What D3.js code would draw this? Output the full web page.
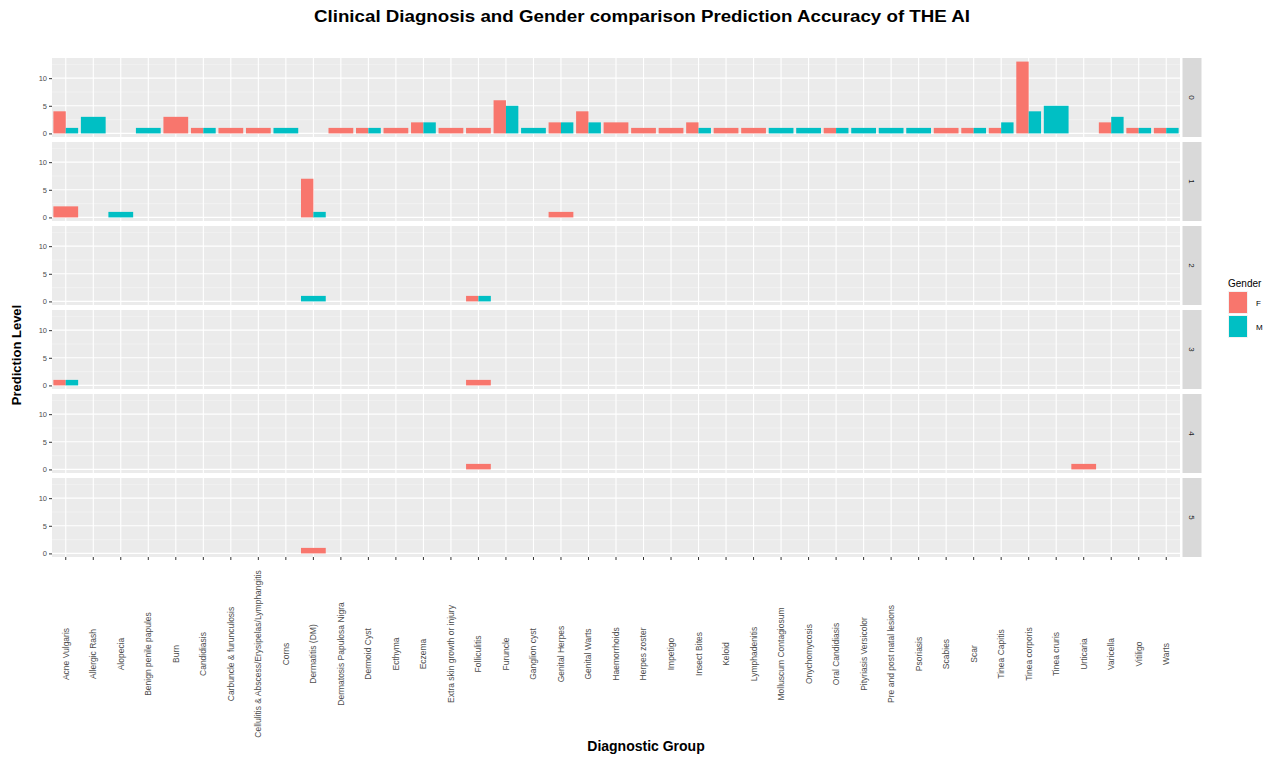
<!DOCTYPE html>
<html>
<head>
<meta charset="utf-8">
<script src="https://cdn.jsdelivr.net/npm/d3@7"></script>
<style>
  html, body { margin: 0; padding: 0; background: #ffffff; }
  svg { display: block; font-family: "Liberation Sans", Arial, sans-serif; }
</style>
</head>
<body>
<svg id="chart" width="1283" height="759"></svg>
<script>
// Diagnostic groups along the x axis
const categories = [
  "Acne Vulgaris", "Allergic Rash", "Alopecia", "Benign penile papules", "Burn",
  "Candidiasis", "Carbuncle & furunculosis", "Cellulitis & Abscess/Erysipelas/Lymphangitis", "Corns",
  "Dermatitis (DM)", "Dermatosis Papulosa Nigra", "Dermoid Cyst", "Ecthyma", "Eczema",
  "Extra skin growth or injury", "Folliculitis", "Furuncle", "Ganglion cyst", "Genital Herpes",
  "Genital Warts", "Haemorrhoids", "Herpes zoster", "Impetigo", "Insect Bites", "Keloid",
  "Lymphadenitis", "Molluscum Contagiosum", "Onychomycosis", "Oral Candidiasis",
  "Pityriasis Versicolor", "Pre and post natal lesions", "Psoriasis", "Scabies", "Scar",
  "Tinea Capitis", "Tinea corporis", "Tinea cruris", "Urticaria", "Varicella", "Vitiligo", "Warts"
];

// Facet rows (prediction level)
const levels = ["0", "1", "2", "3", "4", "5"];
const genders = ["F", "M"];

// Counts per diagnostic group, one array per level and gender
const level0F = [4,0,0,0,3,1,1,1,0,0,1,1,1,2,1,1,6,0,2,4,2,1,1,2,1,1,0,0,1,0,0,0,1,1,1,13,0,0,2,1,1];
const level0M = [1,3,0,1,0,1,0,0,1,0,0,1,0,2,0,0,5,1,2,2,0,0,0,1,0,0,1,1,1,1,1,1,0,1,2,4,5,0,3,1,1];
const level1F = [2,0,0,0,0,0,0,0,0,7,0,0,0,0,0,0,0,0,1,0,0,0,0,0,0,0,0,0,0,0,0,0,0,0,0,0,0,0,0,0,0];
const level1M = [0,0,1,0,0,0,0,0,0,1,0,0,0,0,0,0,0,0,0,0,0,0,0,0,0,0,0,0,0,0,0,0,0,0,0,0,0,0,0,0,0];
const level2F = [0,0,0,0,0,0,0,0,0,0,0,0,0,0,0,1,0,0,0,0,0,0,0,0,0,0,0,0,0,0,0,0,0,0,0,0,0,0,0,0,0];
const level2M = [0,0,0,0,0,0,0,0,0,1,0,0,0,0,0,1,0,0,0,0,0,0,0,0,0,0,0,0,0,0,0,0,0,0,0,0,0,0,0,0,0];
const level3F = [1,0,0,0,0,0,0,0,0,0,0,0,0,0,0,1,0,0,0,0,0,0,0,0,0,0,0,0,0,0,0,0,0,0,0,0,0,0,0,0,0];
const level3M = [1,0,0,0,0,0,0,0,0,0,0,0,0,0,0,0,0,0,0,0,0,0,0,0,0,0,0,0,0,0,0,0,0,0,0,0,0,0,0,0,0];
const level4F = [0,0,0,0,0,0,0,0,0,0,0,0,0,0,0,1,0,0,0,0,0,0,0,0,0,0,0,0,0,0,0,0,0,0,0,0,0,1,0,0,0];
const level4M = [0,0,0,0,0,0,0,0,0,0,0,0,0,0,0,0,0,0,0,0,0,0,0,0,0,0,0,0,0,0,0,0,0,0,0,0,0,0,0,0,0];
const level5F = [0,0,0,0,0,0,0,0,0,1,0,0,0,0,0,0,0,0,0,0,0,0,0,0,0,0,0,0,0,0,0,0,0,0,0,0,0,0,0,0,0];
const level5M = [0,0,0,0,0,0,0,0,0,0,0,0,0,0,0,0,0,0,0,0,0,0,0,0,0,0,0,0,0,0,0,0,0,0,0,0,0,0,0,0,0];

const yTicks = [0, 5, 10];

const countsByLevel = [
  [level0F, level0M], [level1F, level1M], [level2F, level2M],
  [level3F, level3M], [level4F, level4M], [level5F, level5M]
];

// Flatten into bar records, dodging only where both genders are present
const bars = [];
countsByLevel.forEach((pair, li) => {
  categories.forEach((cat, ci) => {
    const present = genders.map((g, gi) => ({ g, v: pair[gi][ci] })).filter(d => d.v > 0);
    present.forEach((d, k) => {
      bars.push({ level: levels[li], category: cat, gender: d.g, value: d.v, slot: k, slots: present.length });
    });
  });
});

const svg = d3.select("#chart");

const plotLeft = 52, plotRight = 1180;
const panelTop = 58, panelH = 79, panelGap = 5;
const stripW = 19;

const color = d3.scaleOrdinal().domain(genders).range(["#F8766D", "#00BFC4"]);

const x = d3.scaleBand().domain(categories).range([plotLeft, plotRight]).paddingInner(0).paddingOuter(0);
const barW = x.bandwidth() * 0.9;

const maxVal = d3.max(bars, d => d.value);
const yRow = d3.scaleBand().domain(levels).range([panelTop, panelTop + levels.length * panelH + (levels.length - 1) * panelGap])
  .paddingInner(panelGap / (panelH + panelGap)).paddingOuter(0);

function yFor(level) {
  const top = yRow(level);
  return d3.scaleLinear().domain([-0.05 * maxVal, maxVal * 1.05]).range([top + yRow.bandwidth(), top]);
}

// Title
svg.append("text")
  .attr("x", 642).attr("y", 22)
  .attr("text-anchor", "middle")
  .attr("font-size", 16).attr("font-weight", "bold").attr("fill", "#000")
  .attr("textLength", 656).attr("lengthAdjust", "spacingAndGlyphs")
  .text("Clinical Diagnosis and Gender comparison Prediction Accuracy of THE AI");

levels.forEach(level => {
  const y = yFor(level);
  const top = yRow(level), h = yRow.bandwidth();
  const g = svg.append("g");

  g.append("rect").attr("x", plotLeft).attr("y", top).attr("width", plotRight - plotLeft).attr("height", h).attr("fill", "#EBEBEB");

  // minor horizontal grid
  [2.5, 7.5, 12.5].forEach(v => {
    g.append("line").attr("x1", plotLeft).attr("x2", plotRight).attr("y1", y(v)).attr("y2", y(v))
      .attr("stroke", "#F5F5F5").attr("stroke-width", 0.6);
  });
  // major horizontal grid
  yTicks.forEach(v => {
    g.append("line").attr("x1", plotLeft).attr("x2", plotRight).attr("y1", y(v)).attr("y2", y(v))
      .attr("stroke", "#FFFFFF").attr("stroke-width", 1.1);
  });
  // vertical grid at each category
  categories.forEach(c => {
    const cx = x(c) + x.bandwidth() / 2;
    g.append("line").attr("x1", cx).attr("x2", cx).attr("y1", top).attr("y2", top + h)
      .attr("stroke", "#FFFFFF").attr("stroke-width", 1.1);
  });

  // bars
  g.selectAll("rect.bar").data(bars.filter(b => b.level === level)).join("rect")
    .attr("class", "bar")
    .attr("x", d => {
      const start = x(d.category) + (x.bandwidth() - barW) / 2;
      return start + d.slot * barW / d.slots;
    })
    .attr("width", d => barW / d.slots)
    .attr("y", d => y(d.value))
    .attr("height", d => y(0) - y(d.value))
    .attr("fill", d => color(d.gender));

  // y axis
  const ax = svg.append("g").attr("transform", `translate(${plotLeft},0)`)
    .call(d3.axisLeft(y).tickValues(yTicks).tickSize(3).tickPadding(2).tickFormat(d3.format("d")));
  ax.select(".domain").remove();
  ax.selectAll(".tick line").attr("stroke", "#333333");
  ax.selectAll(".tick text").attr("font-size", 7.5).attr("fill", "#4D4D4D").attr("font-family", "Liberation Sans, Arial, sans-serif");

  // facet strip
  svg.append("rect").attr("x", plotRight + 2.5).attr("y", top).attr("width", stripW).attr("height", h).attr("fill", "#D9D9D9");
  svg.append("text")
    .attr("transform", `translate(${plotRight + 2.5 + stripW / 2},${top + h / 2}) rotate(90)`)
    .attr("text-anchor", "middle").attr("dy", "0.35em")
    .attr("font-size", 8).attr("fill", "#1A1A1A")
    .text(level);
});

// x axis on the bottom panel, labels centred on a common line
const lastTop = yRow(levels[levels.length - 1]) + yRow.bandwidth();
const labelMid = 654;
const xa = svg.append("g").attr("transform", `translate(0,${lastTop})`)
  .call(d3.axisBottom(x).tickSize(3).tickPadding(3));
xa.select(".domain").remove();
xa.selectAll(".tick line").attr("stroke", "#333333");
xa.selectAll(".tick text")
  .attr("font-size", 8.5).attr("fill", "#4D4D4D").attr("font-family", "Liberation Sans, Arial, sans-serif")
  .attr("text-anchor", "middle")
  .attr("transform", "rotate(-90)")
  .attr("x", -(labelMid - lastTop)).attr("y", 0).attr("dy", "0.35em");

// axis titles
svg.append("text")
  .attr("x", 646).attr("y", 751)
  .attr("text-anchor", "middle").attr("font-size", 14).attr("font-weight", "bold").attr("fill", "#000")
  .text("Diagnostic Group");

svg.append("text")
  .attr("transform", `translate(21,355) rotate(-90)`)
  .attr("text-anchor", "middle").attr("font-size", 13).attr("font-weight", "bold").attr("fill", "#000")
  .text("Prediction Level");

// legend
const lg = svg.append("g").attr("transform", "translate(1228,278)");
lg.append("text").attr("x", 0).attr("y", 9).attr("font-size", 10).attr("fill", "#000").text("Gender");
genders.forEach((gName, i) => {
  lg.append("rect").attr("x", 0).attr("y", 13 + i * 24).attr("width", 20).attr("height", 23).attr("fill", "#F2F2F2");
  lg.append("rect").attr("x", 1).attr("y", 14 + i * 24).attr("width", 18).attr("height", 21).attr("fill", color(gName));
  lg.append("text").attr("x", 28).attr("y", 25 + i * 24).attr("dy", "0.35em")
    .attr("font-size", 8).attr("fill", "#000").text(gName);
});
</script>
</body>
</html>
